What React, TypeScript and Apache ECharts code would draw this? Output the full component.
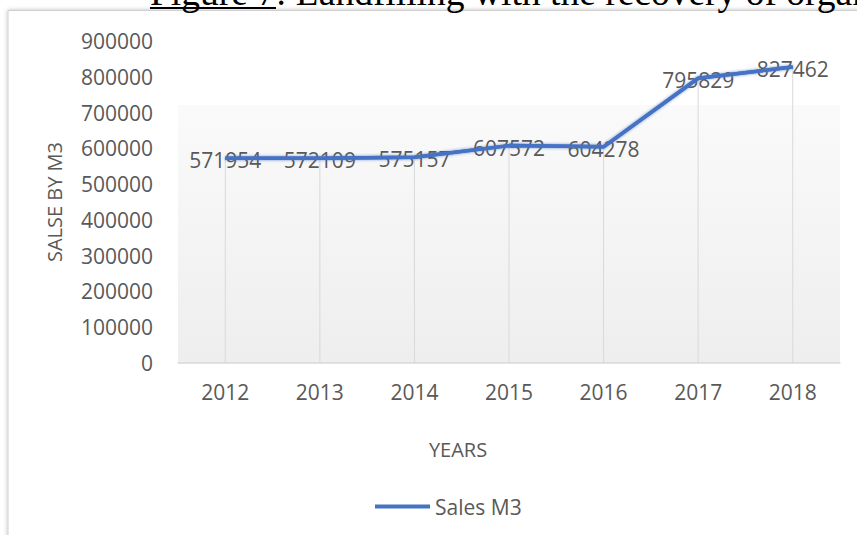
import React, { useEffect, useRef } from 'react';
import * as echarts from 'echarts';

const years = ['2012', '2013', '2014', '2015', '2016', '2017', '2018'];
const salesM3 = [571954, 572109, 575157, 607572, 604278, 795829, 827462];
const yMin = 0;
const yMax = 900000;
const yStep = 100000;
const seriesName = 'Sales M3';
const xAxisTitle = 'YEARS';
const yAxisTitle = 'SALSE BY M3';
const caption = 'Figure 7: Landfilling with the recovery of organ';

const font = '"Open Sans", "Noto Sans", sans-serif';
const gray = '#595959';
const blue = '#4472C4';

export default function App() {
  const ref = useRef<HTMLDivElement>(null);
  useEffect(() => {
    if (!ref.current) return;
    const chart = echarts.init(ref.current, undefined, { renderer: 'svg' });
    const lineStyle = {
      color: blue,
      width: 3.5,
      shadowBlur: 3,
      shadowColor: 'rgba(68,114,196,0.45)',
    };
    chart.setOption({
      animation: false,
      backgroundColor: '#ffffff',
      textStyle: { fontFamily: font },
      graphic: [
        {
          type: 'rect',
          z: -100,
          silent: true,
          shape: { x: 8, y: 10.5, width: 1000, height: 1000 },
          style: {
            fill: '#ffffff',
            stroke: '#cfcfcf',
            lineWidth: 1,
            shadowBlur: 4,
            shadowColor: 'rgba(0,0,0,0.25)',
          },
        },
        {
          type: 'text',
          z: 100,
          x: 150,
          y: -7.7,
          silent: true,
          style: {
            text: caption,
            font: '37.5px "Liberation Serif", "Times New Roman", serif',
            fill: '#000000',
            textAlign: 'left',
            textVerticalAlign: 'middle',
          },
        },
        {
          type: 'rect',
          z: 100,
          silent: true,
          shape: { x: 150, y: 7, width: 126, height: 2 },
          style: { fill: '#000000' },
        },
      ],
      grid: {
        left: 178,
        right: 17,
        top: 41,
        bottom: 172,
        show: true,
        borderWidth: 0,
        backgroundColor: {
          type: 'linear',
          x: 0,
          y: 0,
          x2: 0,
          y2: 1,
          colorStops: [
            { offset: 0, color: 'rgba(255,255,255,0)' },
            { offset: 0.199, color: 'rgba(255,255,255,0)' },
            { offset: 0.2, color: '#fafafa' },
            { offset: 1, color: '#eeeeee' },
          ],
        },
      },
      legend: {
        data: [seriesName],
        left: 370,
        top: 491,
        icon: 'rect',
        itemWidth: 55,
        itemHeight: 4,
        textStyle: { color: gray, fontSize: 21, fontFamily: font },
      },
      xAxis: {
        type: 'category',
        data: years,
        boundaryGap: true,
        axisLine: { lineStyle: { color: '#d9d9d9', width: 1.5 } },
        axisTick: { show: false },
        splitLine: { show: false },
        axisLabel: { color: gray, fontSize: 21, margin: 18, fontFamily: font },
        name: xAxisTitle,
        nameLocation: 'middle',
        nameGap: 76,
        nameTextStyle: { color: gray, fontSize: 20, fontFamily: font, padding: [0, 102, 0, 0] },
      },
      yAxis: {
        type: 'value',
        min: yMin,
        max: yMax,
        interval: yStep,
        axisLine: { show: false },
        axisTick: { show: false },
        splitLine: { show: false },
        axisLabel: {
          color: gray,
          fontSize: 21,
          margin: 25,
          fontFamily: font,
          formatter: (v: number) => String(v),
        },
        name: yAxisTitle,
        nameLocation: 'middle',
        nameGap: 114,
        nameTextStyle: { color: gray, fontSize: 20, fontFamily: font },
      },
      series: [
        {
          name: 'drop lines',
          type: 'bar',
          data: salesM3,
          barWidth: 1,
          itemStyle: { color: '#d9d9d9' },
          silent: true,
          z: 1,
        },
        {
          name: seriesName,
          type: 'line',
          data: salesM3,
          symbol: 'circle',
          symbolSize: 1,
          showSymbol: true,
          lineStyle,
          itemStyle: { color: blue },
          label: {
            show: true,
            position: 'inside',
            color: gray,
            fontSize: 21,
            fontFamily: font,
            offset: [0, 2],
          },
          z: 2,
        },
        {
          name: seriesName,
          type: 'line',
          data: salesM3,
          symbol: 'none',
          lineStyle,
          itemStyle: { color: blue },
          silent: true,
          z: 3,
        },
      ],
    });
    return () => chart.dispose();
  }, []);
  return (
    <div
      ref={ref}
      style={{ position: 'fixed', left: 0, top: 0, width: 857, height: 535 }}
    />
  );
}
